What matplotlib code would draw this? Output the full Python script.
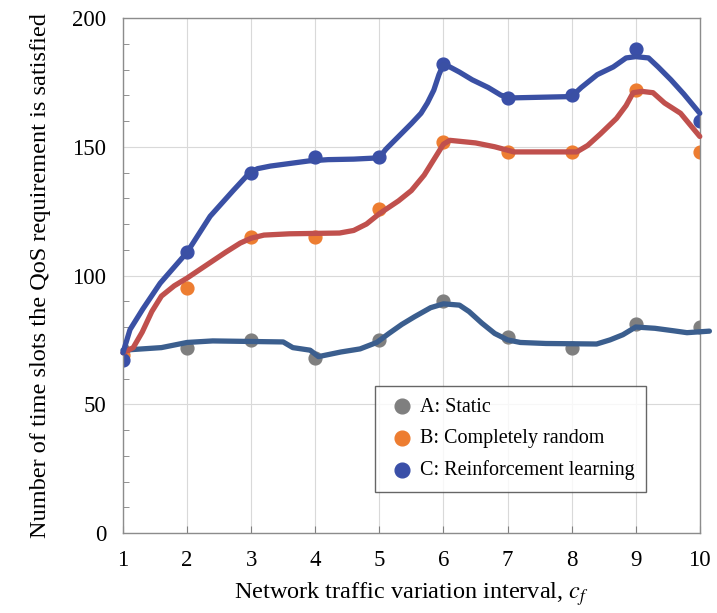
import matplotlib
matplotlib.use('Agg')

import matplotlib.pyplot as plt
from matplotlib.ticker import MultipleLocator

plt.rcParams['font.family'] = ['Liberation Serif', 'DejaVu Serif']
plt.rcParams['mathtext.fontset'] = 'stix'

# measured points
intervals = [1, 2, 3, 4, 5, 6, 7, 8, 9, 10]
static_pts = [71, 72, 75, 68, 75, 90, 76, 72, 81, 80]
random_pts = [69, 95, 115, 115, 126, 152, 148, 148, 172, 148]
rl_pts = [67, 109, 140, 146, 146, 182, 169, 170, 188, 160]

# hand-drawn trend curves
static_curve_x = [1.0, 1.6, 2.0, 2.4, 3.5, 3.65, 3.92, 4.05, 4.4, 4.7, 4.96, 5.15, 5.35,
                  5.55, 5.8, 6.0, 6.25, 6.4, 6.6, 6.8, 7.0, 7.2, 7.6, 8.39, 8.6, 8.8,
                  9.0, 9.3, 9.6, 9.8, 10.15]
static_curve_y = [71, 72, 74, 74.6, 74.2, 72, 71, 68.5, 70.3, 71.5, 74, 77.5, 81,
                  84, 87.5, 89, 88.5, 86, 81.5, 77.5, 75, 74, 73.6, 73.4, 75, 77,
                  80, 79.5, 78.5, 77.8, 78.4]

random_curve_x = [1.0, 1.16, 1.3, 1.45, 1.6, 1.8, 2.0, 2.36, 2.6, 2.83, 3.0, 3.2, 3.6,
                  4.38, 4.6, 4.8, 5.0, 5.3, 5.5, 5.7, 5.85, 6.0, 6.1, 6.5, 6.8, 7.1,
                  8.08, 8.25, 8.45, 8.7, 8.85, 8.96, 9.1, 9.27, 9.45, 9.7, 9.9, 10.0]
random_curve_y = [70, 72, 78, 86, 92, 96, 99, 105, 109, 112.6, 114.5, 115.7, 116.2,
                  116.5, 117.5, 120, 124, 129, 133, 139, 145, 151, 152.5, 151.5, 150, 148,
                  148, 150.5, 155, 161, 166, 171, 171.5, 171, 167, 163, 157, 154]

rl_curve_x = [1.0, 1.11, 1.31, 1.58, 2.0, 2.36, 2.72, 2.98, 3.1, 3.3, 3.6, 3.9, 4.2,
              4.6, 5.0, 5.1, 5.3, 5.5, 5.65, 5.75, 5.85, 5.93, 6.0, 6.1, 6.25, 6.45,
              6.7, 6.9, 7.1, 8.0, 8.15, 8.4, 8.65, 8.85, 9.0, 9.2, 9.35, 9.55, 9.75, 10.0]
rl_curve_y = [70, 79, 87, 97, 109, 123, 133, 140, 141.5, 142.5, 143.5, 144.5, 145,
              145.2, 145.7, 149, 154, 159, 163, 167, 172, 178, 182, 181, 179, 176,
              173, 170, 169, 169.5, 173, 178, 181, 184.5, 185, 184.5, 181, 176, 170.5, 163]

fig = plt.figure(figsize=(7.17, 6.13), dpi=100)
ax = fig.add_axes([0.1715, 0.1305, 0.8045, 0.8401])

ax.scatter(intervals, static_pts, s=85, color='#7f7f7f', zorder=2, label='A: Static')
ax.scatter(intervals, random_pts, s=85, color='#ED7D31', zorder=2, label='B: Completely random')
ax.scatter(intervals, rl_pts, s=85, color='#3A4FA8', zorder=2, label='C: Reinforcement learning')

ax.plot(static_curve_x, static_curve_y, color='#3B5E8E', lw=3.8, zorder=3,
        solid_capstyle='round', solid_joinstyle='round', clip_on=False)
ax.plot(random_curve_x, random_curve_y, color='#C0504D', lw=3.8, zorder=3,
        solid_capstyle='round', solid_joinstyle='round', clip_on=False)
ax.plot(rl_curve_x, rl_curve_y, color='#3A50A4', lw=3.8, zorder=4,
        solid_capstyle='round', solid_joinstyle='round', clip_on=False)

ax.set_xlim(1, 10)
ax.set_ylim(0, 200)
ax.set_xticks(intervals)
ax.yaxis.set_major_locator(MultipleLocator(50))
ax.yaxis.set_minor_locator(MultipleLocator(10))
ax.grid(True, which='major', color='#d9d9d9', lw=0.8, zorder=0)
ax.set_axisbelow(True)
ax.tick_params(axis='both', which='both', direction='in', color='#808080',
               labelsize=16.5, pad=12)
ax.tick_params(axis='x', length=5, top=False)
ax.tick_params(axis='y', which='major', length=0)
ax.tick_params(axis='y', which='minor', length=4)
for sp in ax.spines.values():
    sp.set_color('#8c8c8c')
    sp.set_linewidth(1.0)

ax.set_ylabel('Number of time slots the QoS requirement is satisfied', fontsize=17.5, labelpad=15)
ax.set_xlabel(r'Network traffic variation interval, $c_f$', fontsize=17.5, labelpad=7)

leg = ax.legend(loc='lower left', bbox_to_anchor=(0.42, 0.06), fontsize=14.5,
                frameon=True, fancybox=False, edgecolor='#404040', handletextpad=0.1,
                borderpad=0.6, labelspacing=0.6, handlelength=1.5, scatterpoints=1,
                markerscale=1.15)
leg.get_frame().set_linewidth(1.0)

plt.savefig('out.png', dpi=100)
